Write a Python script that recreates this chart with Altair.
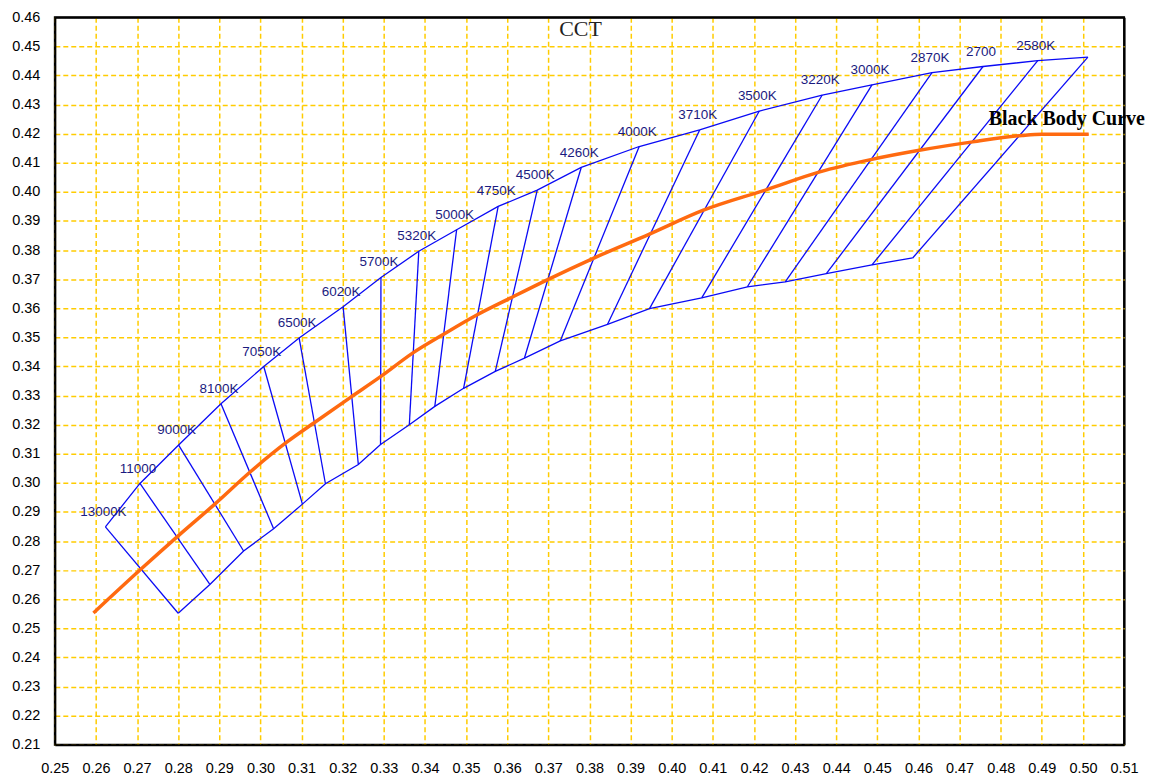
import altair as alt
import pandas as pd

# ---- data ----
cct_labels = ["13000K", "11000", "9000K", "8100K", "7050K", "6500K", "6020K", "5700K",
              "5320K", "5000K", "4750K", "4500K", "4260K", "4000K", "3710K", "3500K",
              "3220K", "3000K", "2870K", "2700", "2580K", ""]

upper_x = [0.2623, 0.2707, 0.2801, 0.2904, 0.3008, 0.3094, 0.3201, 0.3293, 0.3385, 0.3477,
           0.3578, 0.3673, 0.3780, 0.3921, 0.4068, 0.4213, 0.4366, 0.4487, 0.4633, 0.4757,
           0.4890, 0.5012]
upper_y = [0.2849, 0.2998, 0.3130, 0.3272, 0.3400, 0.3498, 0.3605, 0.3706, 0.3796, 0.3870,
           0.3950, 0.4006, 0.4084, 0.4156, 0.4213, 0.4278, 0.4333, 0.4368, 0.4410, 0.4431,
           0.4451, 0.4463]

lower_x = [0.2800, 0.2877, 0.2959, 0.3032, 0.3102, 0.3158, 0.3238, 0.3292, 0.3362, 0.3424,
           0.3494, 0.3571, 0.3642, 0.3729, 0.3844, 0.3946, 0.4073, 0.4184, 0.4276, 0.4376,
           0.4487, 0.4586]
lower_y = [0.2552, 0.2651, 0.2766, 0.2842, 0.2927, 0.2997, 0.3063, 0.3132, 0.3200, 0.3263,
           0.3325, 0.3383, 0.3429, 0.3488, 0.3545, 0.3599, 0.3636, 0.3674, 0.3691, 0.3719,
           0.3749, 0.3773]

bb_x = [0.2594, 0.2709, 0.2800, 0.2889, 0.2977, 0.3063, 0.3135, 0.3219, 0.3292, 0.3370,
        0.3442, 0.3526, 0.3606, 0.3696, 0.3808, 0.3946, 0.4077, 0.4231, 0.4360, 0.4484,
        0.4602, 0.4732, 0.4852, 0.4900, 0.5014]
bb_y = [0.2553, 0.2703, 0.2818, 0.2927, 0.3040, 0.3139, 0.3211, 0.3294, 0.3365, 0.3446,
        0.3508, 0.3577, 0.3634, 0.3697, 0.3771, 0.3855, 0.3937, 0.4008, 0.4069, 0.4111,
        0.4143, 0.4172, 0.4194, 0.4198, 0.4198]
bb_label = "Black Body Curve"

x_ticks = [0.25, 0.26, 0.27, 0.28, 0.29, 0.30, 0.31, 0.32, 0.33, 0.34, 0.35, 0.36, 0.37,
           0.38, 0.39, 0.40, 0.41, 0.42, 0.43, 0.44, 0.45, 0.46, 0.47, 0.48, 0.49, 0.50, 0.51]
y_ticks = [0.21, 0.22, 0.23, 0.24, 0.25, 0.26, 0.27, 0.28, 0.29, 0.30, 0.31, 0.32, 0.33,
           0.34, 0.35, 0.36, 0.37, 0.38, 0.39, 0.40, 0.41, 0.42, 0.43, 0.44, 0.45, 0.46]

# ---- tables ----
rows = []
for i in range(len(upper_x)):
    rows.append({"x": upper_x[i], "y": upper_y[i], "grp": "upper", "ord": i})
for i in range(len(lower_x)):
    rows.append({"x": lower_x[i], "y": lower_y[i], "grp": "lower", "ord": i})
bounds = pd.DataFrame(rows)

cross = pd.DataFrame({"x": upper_x, "y": upper_y, "x2": lower_x, "y2": lower_y})
labels = pd.DataFrame({"x": upper_x, "y": upper_y, "t": cct_labels})
bb = pd.DataFrame({"x": bb_x, "y": bb_y, "ord": list(range(len(bb_x)))})
bb_lab = pd.DataFrame({"x": [bb_x[-1]], "y": [bb_y[-1]], "t": [bb_label]})

GRID = "#FFCC00"


def edge_style(limit):
    test = f"datum.value >= {limit}"
    return dict(
        gridColor={"condition": {"test": test, "value": "black"}, "value": GRID},
        gridDash={"condition": {"test": test, "value": [1, 0]}, "value": [5, 3]},
        gridWidth={"condition": {"test": test, "value": 2}, "value": 1.5},
    )


X = alt.X("x:Q",
          scale=alt.Scale(domain=[0.25, 0.51], nice=False, zero=False),
          axis=alt.Axis(values=x_ticks, format=".2f", title=None, labelPadding=17,
                        **edge_style(0.5095)))
Y = alt.Y("y:Q",
          scale=alt.Scale(domain=[0.21, 0.46], nice=False, zero=False),
          axis=alt.Axis(values=y_ticks, format=".2f", title=None, labelPadding=15,
                        **edge_style(0.4595)))

blue = "#0A0AF5"

bound_lines = alt.Chart(bounds).mark_line(color=blue, strokeWidth=1.3).encode(
    x=X, y=Y, detail="grp:N", order="ord:Q")

cross_lines = alt.Chart(cross).mark_rule(color=blue, strokeWidth=1.3).encode(
    x=X, y=Y, x2="x2:Q", y2="y2:Q")

bb_line = alt.Chart(bb).mark_line(color="#FF6A10", strokeWidth=3.5,
                                  interpolate="monotone").encode(x=X, y=Y, order="ord:Q")

cct_text = alt.Chart(labels).mark_text(font="Liberation Sans", fontSize=13.5,
                                       color="#1a1a80", dy=-15, dx=-2).encode(
    x=X, y=Y, text="t:N")

bb_text = alt.Chart(bb_lab).mark_text(font="Liberation Serif", fontWeight="bold",
                                      fontSize=20, color="black", dx=-22, dy=-15).encode(
    x=X, y=Y, text="t:N")

chart = alt.layer(bound_lines, cross_lines, bb_line, cct_text, bb_text).properties(
    width=1073, height=730,
    padding={"left": 3, "top": 0, "right": 0, "bottom": 0},
    title=alt.TitleParams("CCT", font="Liberation Serif", fontSize=22, fontWeight="normal",
                          color="#222222", offset=-32, dx=-9, anchor="middle"),
).configure_view(
    stroke="black", strokeWidth=2
).configure_axis(
    domainColor="black", domainWidth=2, grid=True, gridOpacity=1, ticks=False,
    labelFont="Liberation Sans", labelFontSize=14.5, labelColor="black",
    labelFlush=False, labelOverlap=False
)

chart.save("out.html", embed_options={"renderer": "svg", "actions": False})
